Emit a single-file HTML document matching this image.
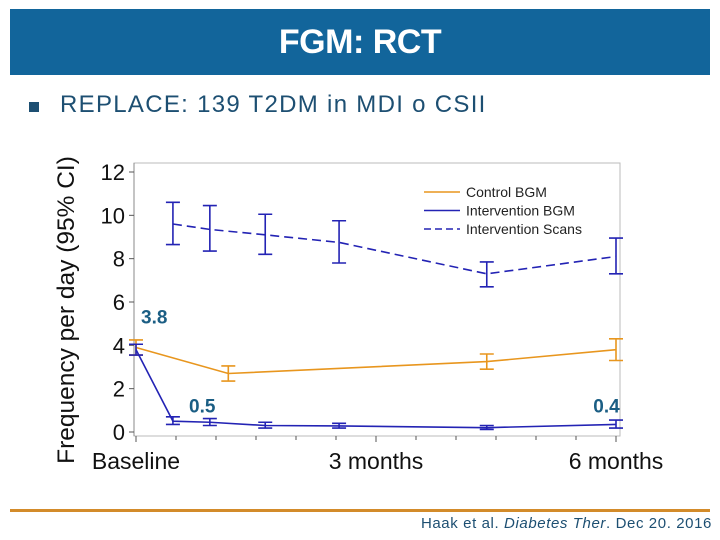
<!DOCTYPE html>
<html><head><meta charset="utf-8"><style>
body{margin:0;width:720px;height:540px;background:#fff;overflow:hidden;font-family:"Liberation Sans",sans-serif;position:relative}
.hdr{position:absolute;left:10px;top:9px;width:700px;height:66px;background:#12659b;color:#fff;font-weight:bold;font-size:34px;text-align:center;line-height:66px;letter-spacing:-0.5px}
.bul{position:absolute;left:29px;top:102px;width:10px;height:10px;background:#1d4f72}
.sub{position:absolute;left:60px;top:91px;font-size:24px;color:#1d4f72;letter-spacing:1.3px}
.orl{position:absolute;left:10px;top:509px;width:700px;height:3px;background:#d38b2a}
.cite{position:absolute;right:8px;top:515px;font-size:15px;color:#1d4f72;letter-spacing:0.6px}
svg{position:absolute;left:0;top:0}
</style></head><body>
<div class="hdr">FGM: RCT</div>
<div class="bul"></div>
<div class="sub">REPLACE: 139 T2DM in MDI o CSII</div>
<div class="orl"></div>
<div class="cite">Haak et al. <i>Diabetes Ther</i>. Dec 20. 2016</div>
<svg id="chart" width="720" height="540"></svg>
<script>
const yTicks=[0,2,4,6,8,10,12];
const xLabels=["Baseline","3 months","6 months"];
const xLabelWeeks=[0,13,26];
const ctrlWeeks=[0,5,19,26];
const ctrlVal=[3.9,2.7,3.25,3.8];
const ctrlLo=[3.55,2.35,2.9,3.3];
const ctrlHi=[4.25,3.05,3.6,4.3];
const ibgWeeks=[0,2,4,7,11,19,26];
const ibgVal=[3.8,0.5,0.45,0.3,0.28,0.2,0.35];
const ibgLo=[3.55,0.35,0.3,0.18,0.18,0.12,0.18];
const ibgHi=[4.05,0.7,0.62,0.45,0.4,0.3,0.55];
const scWeeks=[2,4,7,11,19,26];
const scVal=[9.6,9.35,9.1,8.75,7.3,8.1];
const scLo=[8.65,8.35,8.2,7.8,6.7,7.3];
const scHi=[10.6,10.45,10.05,9.75,7.85,8.95];
const annText=["3.8","0.5","0.4"];
const annX=[0,2.6,24.5];
const annY=[5.0,0.9,0.9];

const X=w=>136+w*(480/26);
const Y=v=>432-v*(260/12);
const svg=document.getElementById('chart');
const NS='http://www.w3.org/2000/svg';
function mk(t,a){const e=document.createElementNS(NS,t);for(const k in a)e.setAttribute(k,a[k]);svg.appendChild(e);return e;}
let f=mk('rect',{x:134,y:163,width:486,height:273,fill:'none',stroke:'#bbb','stroke-width':1});


let ya=mk('line',{x1:134,y1:163,x2:134,y2:436,stroke:'#888'});


for(const t of yTicks){
 let l=mk('line',{x1:129,x2:134,y1:Y(t),y2:Y(t),stroke:'#555'});
 
 
 let tx=mk('text',{x:125,y:Y(t)+8,'text-anchor':'end','font-size':22,fill:'#111'});
 tx.textContent=t;
 
 
}
for(let m=0;m<=12;m++){
 const xx=X(m*26/12);
 let l=mk('line',{x1:xx,x2:xx,y1:436,y2:m%6==0?442:440,stroke:'#555'});
 
 
}
xLabels.forEach((s,i)=>{
 let tx=mk('text',{x:X(xLabelWeeks[i]),y:469,'text-anchor':'middle','font-size':23,fill:'#111'});
 tx.textContent=s;
 
 
});
let yt=mk('text',{x:0,y:0,'text-anchor':'middle','font-size':24.5,fill:'#111',transform:'translate(74,310) rotate(-90)'});
yt.textContent='Frequency per day (95% CI)';



function series(ws,vs,lo,hi,col,dash,name){
 const p=mk('polyline',{points:ws.map((w,i)=>X(w)+','+Y(vs[i])).join(' '),fill:'none',stroke:col,'stroke-width':1.6,'stroke-dasharray':dash});
 
 
 ws.forEach((w,i)=>{
  const x=X(w);
  const g=mk('path',{d:`M${x},${Y(lo[i])}V${Y(hi[i])}M${x-7},${Y(lo[i])}H${x+7}M${x-7},${Y(hi[i])}H${x+7}`,stroke:col,'stroke-width':1.6,fill:'none'});
  
  
 });
}
series(ctrlWeeks,ctrlVal,ctrlLo,ctrlHi,'#e8961e','','control-bgm');
series(ibgWeeks,ibgVal,ibgLo,ibgHi,'#2323b4','','intervention-bgm');
series(scWeeks,scVal,scLo,scHi,'#2323b4','9,5','intervention-scans');

annText.forEach((s,i)=>{
 let tx=mk('text',{x:X(annX[i])+5,y:Y(annY[i]),'font-size':19,'font-weight':'bold',fill:'#1b5e84'});
 tx.textContent=s;
 
 
});
const leg=[['Control BGM','#e8961e',''],['Intervention BGM','#2323b4',''],['Intervention Scans','#2323b4','7,4']];
leg.forEach((l,i)=>{
 const y=192+i*18.5;
 let ln=mk('line',{x1:424,x2:460,y1:y,y2:y,stroke:l[1],'stroke-width':1.6,'stroke-dasharray':l[2]});
 
 
 let tx=mk('text',{x:466,y:y+5,'font-size':14,fill:'#222'});
 tx.textContent=l[0];
 
 
});
</script>
</body></html>
